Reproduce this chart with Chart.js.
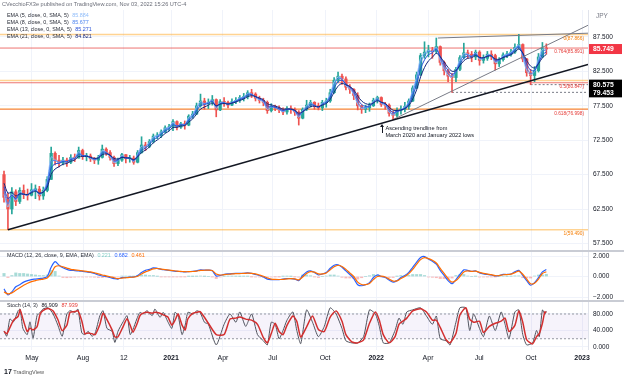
<!DOCTYPE html>
<html>
<head>
<meta charset="utf-8">
<script src="https://cdn.jsdelivr.net/npm/chart.js@4.4.0/dist/chart.umd.min.js"></script>
<style>
  html, body { margin: 0; padding: 0; background: #fff; }
  #wrap { position: relative; width: 624px; height: 379px; overflow: hidden; font-family: 'Liberation Sans', Arial, sans-serif; }
  #chart { position: absolute; left: 0; top: 0; }
  .t { position: absolute; white-space: nowrap; line-height: 1; color: #131722; }
  .leg { font-size: 5.4px; color: #2a2e39; }
  .leg b { font-weight: normal; margin-left: 2px; }
  #arrow { position: absolute; width: 1px; background: #131722; }
  #arrow:before { content: ''; position: absolute; left: -2px; top: -2px; border-left: 2.5px solid transparent; border-right: 2.5px solid transparent; border-bottom: 3px solid #131722; }
</style>
</head>
<body>
<div id="wrap">
  <canvas id="chart" width="624" height="379"></canvas>
  <div class="t" style="left:2px;top:2px;font-size:5.6px;color:#6a6d78">CVecchioFX3e published on TradingView.com, Nov 03, 2022 15:26 UTC-4</div>
  <div id="emaLegend"></div>
  <div class="t leg" style="left:7px;top:253px">MACD (12, 26, close, 9, EMA, EMA) <b style="color:#80cbc4">0.221</b> <b style="color:#2962ff">0.682</b> <b style="color:#ff6d00">0.461</b></div>
  <div class="t leg" style="left:7px;top:303px">Stoch (14, 3) <b style="color:#131722">86.909</b> <b style="color:#e53935">87.939</b></div>
  <div id="arrow"></div>
  <div class="t" id="note" style="font-size:5.6px;line-height:7px;color:#131722">Ascending trendline from<br>March 2020 and January 2022 lows</div>
  <div class="t" style="left:4px;top:368px;font-size:5.6px;color:#555"><span style="font-weight:bold;font-size:7px;color:#131722">17</span> TradingView</div>
</div>
<script>
// weekly bars, week 0 = 9 Mar 2020, last = week of 31 Oct 2022 (NZD/JPY)
const startOpen = 67.5;
const closes = [
  64.2, 62.5, 65.0, 63.6, 65.2, 64.6, 64.5, 65.3, 65.4, 64.4,
  65.2, 66.8, 70.6, 69.6, 69.2, 69.6, 69.3, 70.0, 69.9, 71.0,
  70.1, 70.2, 69.8, 69.6, 70.0, 71.2, 70.7, 70.0, 69.1, 69.6,
  70.4, 69.8, 69.9, 69.3, 70.7, 71.8, 71.6, 72.3, 73.1, 73.2,
  73.7, 74.3, 74.4, 75.2, 74.4, 74.9, 74.7, 76.0, 76.3, 77.5,
  78.2, 77.8, 78.0, 78.4, 76.9, 78.1, 78.0, 77.6, 78.1, 78.3,
  78.7, 78.8, 79.4, 79.2, 78.6, 78.3, 78.0, 76.8, 77.4, 77.2,
  76.9, 76.6, 77.1, 77.0, 76.6, 75.7, 77.0, 77.6, 78.0, 77.5,
  77.2, 78.0, 78.2, 79.4, 81.2, 81.8, 81.4, 80.2, 79.9, 79.0,
  77.5, 77.0, 77.2, 77.5, 78.3, 78.7, 77.7, 77.6, 76.4, 76.1,
  76.8, 77.0, 77.4, 78.2, 80.1, 82.0, 84.8, 85.3, 85.6, 85.4,
  86.1, 83.8, 82.6, 81.8, 81.6, 82.8, 84.5, 85.2, 85.0, 84.6,
  85.3, 84.1, 84.4, 85.0, 84.8, 83.6, 84.2, 84.9, 85.0, 85.3,
  86.0, 86.4, 84.3, 82.3, 81.9, 82.6, 84.6, 85.9, 85.749
];
const highs = [
  68.0, 64.8, 65.6, 65.3, 65.6, 66.0, 65.4, 66.2, 66.0, 65.8,
  65.7, 67.2, 71.5, 70.8, 70.3, 70.0, 69.9, 70.4, 70.5, 71.5,
  71.2, 70.6, 70.5, 70.0, 70.3, 71.8, 71.4, 71.0, 70.2, 69.9,
  70.6, 70.4, 70.3, 70.2, 71.0, 73.0, 72.2, 72.6, 73.4, 73.6,
  74.0, 74.6, 74.8, 75.5, 75.3, 75.1, 75.3, 76.2, 76.7, 77.9,
  79.2, 78.6, 78.5, 79.0, 78.5, 78.4, 78.7, 78.2, 78.5, 78.7,
  79.0, 79.3, 79.7, 79.9, 79.4, 78.9, 78.6, 78.2, 77.8, 77.6,
  77.5, 77.2, 77.4, 77.5, 77.2, 76.8, 77.2, 78.3, 78.3, 78.1,
  77.9, 78.3, 78.6, 79.9, 81.6, 82.4, 82.1, 81.7, 80.6, 80.0,
  79.4, 77.6, 77.6, 77.9, 78.6, 78.9, 78.8, 78.0, 77.8, 76.7,
  77.2, 77.5, 78.0, 78.5, 80.4, 82.4, 85.1, 86.8, 86.3, 86.0,
  87.35, 86.2, 84.0, 82.8, 82.2, 83.1, 84.8, 86.6, 85.6, 85.4,
  85.6, 85.5, 84.9, 85.4, 85.5, 85.0, 84.5, 85.2, 85.4, 85.7,
  86.5, 87.87, 86.5, 84.4, 82.8, 83.2, 85.1, 86.7, 86.5
];
const lows = [
  63.5, 59.49, 61.8, 63.0, 63.3, 64.0, 63.8, 64.4, 64.0, 63.8,
  63.9, 65.0, 66.8, 68.9, 68.6, 68.9, 68.7, 69.1, 69.4, 69.9,
  69.7, 69.5, 69.4, 69.1, 69.0, 69.9, 70.3, 69.6, 68.7, 68.8,
  69.4, 69.2, 69.3, 69.0, 69.2, 70.6, 71.0, 71.4, 72.1, 72.7,
  72.9, 73.6, 73.9, 73.9, 74.0, 74.2, 74.1, 74.6, 75.7, 76.2,
  77.3, 77.0, 77.1, 77.6, 75.9, 76.8, 77.4, 77.2, 77.5, 77.8,
  78.0, 78.2, 78.5, 78.7, 78.2, 77.9, 77.5, 76.4, 76.6, 76.8,
  76.5, 76.2, 76.3, 76.4, 76.1, 74.7, 75.6, 76.8, 77.3, 77.0,
  76.9, 76.8, 77.3, 78.0, 79.3, 80.9, 80.6, 79.8, 79.3, 78.4,
  76.9, 76.4, 76.5, 76.7, 77.4, 77.9, 77.4, 77.0, 76.0, 75.5,
  75.9, 76.3, 76.6, 77.0, 78.1, 80.0, 81.9, 84.4, 84.6, 84.4,
  85.1, 83.4, 82.0, 81.0, 79.45, 81.0, 82.6, 84.3, 84.4, 83.9,
  84.2, 83.4, 83.7, 84.1, 84.2, 82.7, 83.2, 84.0, 84.5, 84.7,
  85.1, 85.8, 83.9, 81.8, 80.575, 81.0, 82.4, 84.5, 85.0
];

const emaPeriods = [5, 8, 13, 21];
const emaLast = ['85.884', '85.677', '85.271', '84.821'];

const macdLine = [
  -1.2, -1.8, -1.5, -1.0, -0.8, -0.55, -0.4, -0.3, -0.25, -0.2,
  -0.15, 0.0, 0.9, 1.45, 1.1, 0.85, 0.7, 0.6, 0.58, 0.55,
  0.5, 0.45, 0.4, 0.3, 0.15, 0.05, 0.0, -0.1, -0.2, -0.25,
  -0.1, -0.1, -0.05, -0.05, 0.1, 0.4, 0.6, 0.7, 0.85, 0.8,
  0.7, 0.65, 0.6, 0.55, 0.5, 0.48, 0.45, 0.48, 0.5, 0.55,
  0.65, 0.62, 0.62, 0.55, 0.05, 0.1, 0.2, 0.25, 0.28, 0.3,
  0.3, 0.32, 0.35, 0.3, 0.2, 0.1, -0.05, -0.25, -0.3, -0.3,
  -0.3, -0.25, -0.2, -0.2, -0.25, -0.4, 0.1, 0.45, 0.55, 0.4,
  0.15, 0.25, 0.4, 0.8, 1.1, 1.15, 0.9, 0.55, 0.2, -0.2,
  -0.8, -0.9, -0.8, -0.6, -0.1, 0.15, 0.0, -0.1, -0.35, -0.55,
  -0.4, -0.1, 0.1, 0.4, 0.9, 1.4, 1.85, 1.95, 1.7, 1.5,
  1.2, 0.6, 0.1, -0.4, -0.7, -0.3, 0.2, 0.65, 0.6, 0.5,
  0.55, 0.35, 0.25, 0.2, 0.15, 0.05, 0.1, 0.2, 0.2, 0.25,
  0.45, 0.6, 0.1, -0.4, -0.85, -0.6, -0.1, 0.45, 0.682
];
const macdSignal = [
  -1.5, -1.7, -1.6, -1.35, -1.1, -0.85, -0.65, -0.5, -0.4, -0.3,
  -0.25, -0.15, 0.3, 0.95, 1.05, 0.95, 0.82, 0.7, 0.65, 0.6,
  0.55, 0.5, 0.45, 0.37, 0.25, 0.15, 0.07, -0.02, -0.12, -0.2,
  -0.15, -0.12, -0.08, -0.06, 0.02, 0.25, 0.45, 0.6, 0.75, 0.78,
  0.73, 0.68, 0.63, 0.58, 0.53, 0.5, 0.47, 0.47, 0.49, 0.53,
  0.6, 0.61, 0.62, 0.58, 0.25, 0.15, 0.18, 0.22, 0.25, 0.28,
  0.29, 0.3, 0.33, 0.31, 0.25, 0.15, 0.03, -0.15, -0.25, -0.28,
  -0.29, -0.27, -0.23, -0.21, -0.23, -0.33, -0.05, 0.3, 0.47, 0.43,
  0.25, 0.25, 0.35, 0.65, 0.95, 1.1, 0.98, 0.7, 0.35, 0.0,
  -0.55, -0.78, -0.8, -0.68, -0.3, 0.0, 0.03, -0.05, -0.25, -0.45,
  -0.42, -0.2, 0.0, 0.28, 0.7, 1.2, 1.65, 1.85, 1.75, 1.58,
  1.32, 0.8, 0.3, -0.2, -0.55, -0.4, 0.0, 0.45, 0.55, 0.5,
  0.53, 0.4, 0.3, 0.23, 0.18, 0.08, 0.09, 0.17, 0.19, 0.23,
  0.38, 0.53, 0.22, -0.25, -0.7, -0.65, -0.25, 0.3, 0.461
];

// stochastic turning points: time in weeks, %K value
const stochWeeks = [
  0, 0.7, 1.5, 2.4, 3.6, 4.1, 4.8, 5.9, 6.6, 7.4, 8.4, 9.2, 9.9, 11.2, 12.5, 13.7, 14.8, 16, 16.8, 18.1,
  18.8, 19.8, 20.6, 21.4, 22.4, 23.2, 24.4, 25.2, 26.2, 27.5, 28.2, 29, 30.3, 31.3, 32.1, 32.8, 33.8, 34.6, 35.4, 36.4,
  37.7, 38.4, 39.7, 40.5, 41.7, 42.7, 43.5, 44.3, 45.3, 46.1, 46.8, 48.1, 49.1, 49.9, 51, 52, 54, 56, 57.5, 59,
  60, 61.5, 63, 64.5, 66, 67, 68, 69, 70, 71, 72, 73.5, 74.5, 75.5, 77, 78.5, 80, 81.5, 83, 84.5,
  86, 87, 88.5, 90, 91.5, 93, 94.5, 95.5, 96.5, 98, 99.5, 100.5, 101.5, 102.5, 104, 106, 107.5, 109, 110, 111,
  112.5, 113.5, 115, 116, 117.5, 118.5, 119.5, 121, 122, 123.5, 125, 126.5, 127.5, 128.5, 130, 131, 132, 133, 134.5, 135.5,
  136.2, 137, 137.6, 138
];
const stochK = [
  38, 26, 68, 61, 88, 92, 45, 30, 61, 22, 76, 84, 92, 95, 80, 53, 26, 80, 88, 84,
  92, 34, 30, 38, 26, 34, 76, 88, 45, 38, 11, 38, 61, 76, 30, 42, 68, 84, 80, 88,
  76, 92, 72, 84, 61, 45, 84, 76, 30, 53, 84, 80, 88, 84, 60, 55, 5, 55, 80, 60,
  85, 50, 80, 30, 15, 5, 60, 55, 20, 40, 65, 85, 40, 8, 90, 60, 25, 50, 95, 80,
  45, 15, 10, 10, 25, 90, 80, 50, 10, 10, 40, 70, 55, 85, 90, 95, 75, 55, 75, 20,
  15, 5, 60, 95, 95, 40, 80, 45, 25, 75, 40, 85, 55, 20, 85, 90, 30, 5, 10, 40,
  25, 90, 80, 86.909
];

const tickWeeks = [7.1, 20.1, 30.5, 42.5, 55.7, 68.4, 81.7, 94.7, 107.9, 120.9, 134.1, 147.1];
const tickLabels = ['May', 'Aug', '12', '2021', 'Apr', 'Jul', 'Oct', '2022', 'Apr', 'Jul', 'Oct', '2023'];
const priceTicks = [57.5, 60, 62.5, 65, 67.5, 70, 72.5, 75, 77.5, 80, 82.5, 85, 87.5];

const fibLevels = [87.866, 85.891, 81.169, 80.847, 77.026, 76.998, 59.49];
const fibLabels = ['0(87.866)', '0.764(85.891)', '', '0.5(80.847)', '', '0.618(76.998)', '1(59.490)'];
const supportLevels = [80.575, 79.453];
const supportFrom = [134, 114];
const bigTrend = [[1, 59.49], [148.6, 83.5]];
const innerTrend = [[99, 75.5], [148.6, 89.2]];
const topTrend = [[110.4, 87.35], [148.6, 88.05]];
const tagValues = [85.749, 80.575, 79.453];

// ---- build
const X_MIN = -1.02, X_MAX = 148.6;
const FONT = "'Liberation Sans', Arial, sans-serif";
const green = '#26a69a', red = '#ef5350';
const opens = closes.map((c, i) => i ? closes[i - 1] : startOpen);
const candleCol = closes.map((c, i) => c >= opens[i] ? green : red);

function ema(period) {
  // daily period expressed on weekly bars
  const a = 1 - Math.pow(1 - 2 / (period + 1), 5);
  let v = startOpen;
  return closes.map((c, i) => ({ x: i, y: (v = v + a * (c - v)) }));
}
const emaColors = ['#90bdfa', '#4f86f0', '#2550d8', '#14287e'];

const stochD = stochK.map((v, i) => ({ x: stochWeeks[i], y: i ? (v + stochK[i - 1]) / 2 : v }));

const flat = (lvl, from) => [{ x: from, y: lvl }, { x: X_MAX, y: lvl }];
const seg = pts => pts.map(p => ({ x: p[0], y: p[1] }));
const fibColor = i => (i % 2 === 0) ? 'rgba(255,167,38,0.5)' : 'rgba(229,57,53,0.7)';

const datasets = [];
fibLevels.forEach((lvl, i) => datasets.push({
  type: 'line', data: flat(lvl, X_MIN), yAxisID: 'y', borderColor: fibColor(i),
  borderWidth: i % 2 === 0 ? 1.6 : 1, pointRadius: 0, order: 20
}));
supportLevels.forEach((lvl, i) => datasets.push({
  type: 'line', data: flat(lvl, supportFrom[i]), yAxisID: 'y', borderColor: '#787b86',
  borderWidth: 1, borderDash: [2, 2], pointRadius: 0, order: 19
}));
datasets.push({
  type: 'bar', data: closes.map((c, i) => ({ x: i, y: [lows[i], highs[i]] })), yAxisID: 'y',
  backgroundColor: candleCol, barThickness: 1, grouped: false, order: 12
});
datasets.push({
  type: 'bar', data: closes.map((c, i) => ({ x: i, y: [opens[i], c] })), yAxisID: 'y',
  backgroundColor: candleCol, barThickness: 2.6, minBarLength: 1, grouped: false, order: 11
});
emaPeriods.forEach((p, i) => datasets.push({
  type: 'line', data: ema(p), yAxisID: 'y', borderColor: emaColors[i], borderWidth: 1,
  pointRadius: 0, tension: 0.3, order: 5 - i
}));
[[bigTrend, '#131722', 1.6], [innerTrend, '#787b86', 1], [topTrend, '#787b86', 1]].forEach(t => datasets.push({
  type: 'line', data: seg(t[0]), yAxisID: 'y', borderColor: t[1], borderWidth: t[2], pointRadius: 0, order: 0
}));
// MACD pane
datasets.push({
  type: 'bar', yAxisID: 'm', grouped: false, barThickness: 2.4, order: 3,
  data: macdLine.map((v, i) => ({ x: i, y: v - macdSignal[i] })),
  backgroundColor: macdLine.map((v, i) => v - macdSignal[i] >= 0 ? 'rgba(38,166,154,0.4)' : 'rgba(239,83,80,0.4)')
});
datasets.push({ type: 'line', yAxisID: 'm', data: macdLine.map((v, i) => ({ x: i, y: v })), borderColor: '#2962ff', borderWidth: 1.2, pointRadius: 0, tension: 0.3, order: 1 });
datasets.push({ type: 'line', yAxisID: 'm', data: macdSignal.map((v, i) => ({ x: i, y: v })), borderColor: '#ff6d00', borderWidth: 1.2, pointRadius: 0, tension: 0.3, order: 0 });
// Stoch pane
datasets.push({ type: 'line', yAxisID: 's', data: flat(80, X_MIN), borderColor: '#9598a1', borderWidth: 1, borderDash: [2, 2], pointRadius: 0, order: 10 });
datasets.push({ type: 'line', yAxisID: 's', data: flat(20, X_MIN), borderColor: '#9598a1', borderWidth: 1, borderDash: [2, 2], pointRadius: 0, fill: '-1', backgroundColor: 'rgba(126,87,194,0.07)', order: 10 });
datasets.push({ type: 'line', yAxisID: 's', data: stochK.map((v, i) => ({ x: stochWeeks[i], y: v })), borderColor: '#50535e', borderWidth: 1, pointRadius: 0, tension: 0.2, order: 1 });
datasets.push({ type: 'line', yAxisID: 's', data: stochD, borderColor: '#d32f2f', borderWidth: 1.5, pointRadius: 0, tension: 0.2, order: 0 });

const yAxis = (min, max, weight, ticks, fmt) => ({
  type: 'linear', position: 'right', stack: 'panes', stackWeight: weight, min, max,
  afterFit: s => { s.width = 36; },
  afterBuildTicks: s => { s.ticks = ticks.map(v => ({ value: v })); },
  grid: { color: '#f0f3fa', drawTicks: false },
  border: { display: false },
  ticks: { padding: 5, color: '#131722', font: { family: FONT, size: 6.5 }, callback: fmt }
});
const fmt3 = v => (v < 0 ? '\u2212' : '') + Math.abs(v).toFixed(3);

const panes = {
  id: 'panes',
  afterDraw(chart) {
    const c = chart.ctx, area = chart.chartArea, ys = chart.scales.y;
    c.save();
    c.fillStyle = '#e0e3eb';
    c.fillRect(area.right, area.top, 1, area.bottom - area.top);
    c.fillStyle = '#c9ccd4';
    [chart.scales.m.top, chart.scales.s.top].forEach(t => c.fillRect(0, Math.round(t) - 1, chart.width, 2));
    c.font = '4.8px ' + FONT; c.textAlign = 'right'; c.textBaseline = 'middle';
    fibLevels.forEach((lvl, i) => {
      if (!fibLabels[i]) return;
      c.fillStyle = i % 2 === 0 ? '#f57c00' : '#e53935';
      c.fillText(fibLabels[i], area.right - 4, ys.getPixelForValue(lvl) + 4);
    });
    c.textAlign = 'left';
    c.fillStyle = '#787b86'; c.font = '6.5px ' + FONT;
    c.fillText('JPY', area.right + 8, ys.top + 6);
    tagValues.forEach((v, i) => {
      const y = ys.getPixelForValue(v);
      c.fillStyle = i === 0 ? '#f23645' : '#000';
      c.fillRect(area.right + 1, y - 5, 33, 10);
      c.fillStyle = '#fff'; c.font = 'bold 6.8px ' + FONT;
      c.fillText(v.toFixed(3), area.right + 5, y + 0.5);
    });
    c.restore();
  }
};

const chart = new Chart(document.getElementById('chart').getContext('2d'), {
  data: { datasets },
  options: {
    responsive: false, animation: false, devicePixelRatio: 1,
    layout: { padding: { top: 10, bottom: 14, left: 0, right: 0 } },
    plugins: { legend: { display: false }, tooltip: { enabled: false } },
    scales: {
      x: {
        type: 'linear', min: X_MIN, max: X_MAX, offset: false,
        afterFit: s => { s.height = 15; },
        afterBuildTicks: s => { s.ticks = tickWeeks.map(v => ({ value: v })); },
        grid: { color: '#f0f3fa', drawTicks: false, offset: false },
        border: { display: false },
        ticks: {
          padding: 4, color: '#131722', maxRotation: 0, autoSkip: false,
          callback: (v, i) => tickLabels[i],
          font: c => ({ family: FONT, size: 7, weight: /^\d{4}$/.test(tickLabels[c.index]) ? 'bold' : 'normal' })
        }
      },
      y: yAxis(56.4, 91.42, 241, priceTicks, fmt3),
      m: yAxis(-2.39, 2.49, 50, [-2, 0, 2], fmt3),
      s: yAxis(-7.3, 111.5, 49, [0, 40, 80], fmt3)
    }
  },
  plugins: [panes]
});

// legends and note
document.getElementById('emaLegend').innerHTML = emaPeriods.map((p, i) =>
  `<div class="t leg" style="left:7px;top:${13 + i * 7}px">EMA (${p}, close, 0, SMA, 5) <b style="color:${emaColors[i]}">${emaLast[i]}</b></div>`
).join('');
const ax = chart.scales.x.getPixelForValue(96.3), ay = chart.scales.y.getPixelForValue(74.6);
const arrow = document.getElementById('arrow');
arrow.style.left = ax + 'px'; arrow.style.top = ay + 'px'; arrow.style.height = '7px';
const note = document.getElementById('note');
note.style.left = (ax + 3) + 'px'; note.style.top = (ay - 1) + 'px';
</script>
</body>
</html>
